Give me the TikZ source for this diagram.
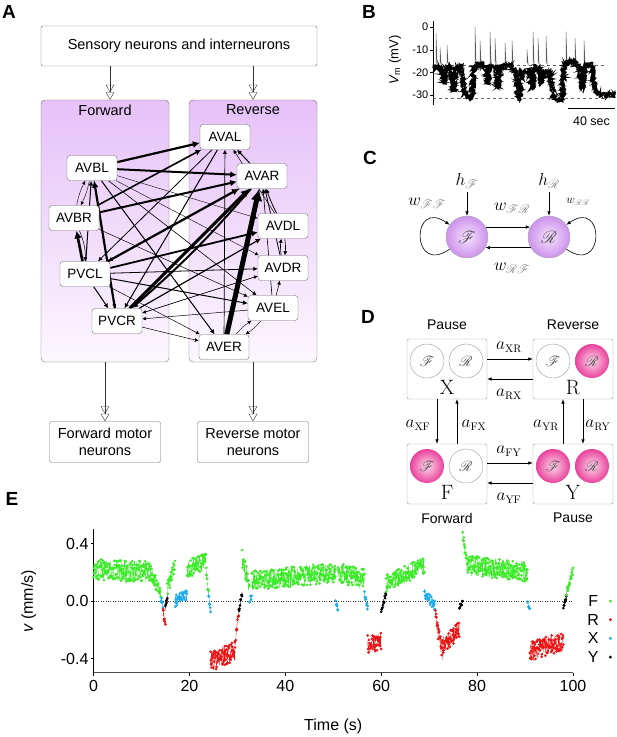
\documentclass[tikz,border=0pt]{standalone}
\usepackage[no-math]{fontspec}
\setmainfont{Liberation Sans}
\usepackage{mathrsfs}
\usetikzlibrary{arrows.meta,decorations.pathmorphing}

\definecolor{grpTop}{RGB}{230,193,248}
\definecolor{grpBot}{RGB}{252,247,254}
\definecolor{ballIn}{RGB}{246,226,253}
\definecolor{ballOut}{RGB}{204,146,236}
\definecolor{pinkIn}{RGB}{253,216,235}
\definecolor{pinkOut}{RGB}{233,66,155}
\definecolor{stF}{RGB}{60,235,40}
\definecolor{stR}{RGB}{235,20,20}
\definecolor{stX}{RGB}{30,170,235}
\definecolor{stY}{RGB}{0,0,0}
\definecolor{edgeGray}{RGB}{110,110,110}

\pgfdeclarelayer{back}
\pgfdeclarelayer{wires}
\pgfsetlayers{back,wires,main}

\tikzset{
  neuron/.style={draw=edgeGray, fill=white, rounded corners=3pt, minimum width=50pt,
    minimum height=25pt, inner sep=1pt, font=\fontsize{13.5}{15}\selectfont},
  group/.style={draw=edgeGray, rounded corners=4pt, top color=grpTop, bottom color=grpBot,
    minimum width=128pt, minimum height=262pt},
  plainbox/.style={draw=edgeGray, fill=white, rounded corners=2pt, align=center,
    font=\fontsize{14.5}{17}\selectfont},
  syn/.style={-{Latex[length=3pt 1.8, width=3pt 1.8]}},
  dtip/.style={draw=black!80, -{Triangle[open,length=7.5pt,width=8.5pt]Triangle[open,length=7.5pt,width=8.5pt]}},
  panel/.style={font=\fontsize{19}{20}\selectfont\bfseries},
  arr/.style={line width=0.6pt, -{Latex[length=4.5pt,width=3.5pt]}},
  cball/.style={circle, draw=gray!70, minimum size=42pt, inner sep=0pt, inner color=ballIn,
    outer color=ballOut, text=black!70, font=\fontsize{17}{17}\selectfont},
  statebox/.style={draw=gray!80, fill=white, rounded corners=2pt, minimum width=80pt, minimum height=60pt},
  offunit/.style={circle, draw=gray!80, fill=white, minimum size=34pt, inner sep=0pt,
    text=black!70, font=\fontsize{14}{14}\selectfont},
  onunit/.style={circle, minimum size=34pt, inner sep=0pt, inner color=pinkIn, outer color=pinkOut,
    text=black!70, font=\fontsize{14}{14}\selectfont},
  rate/.style={font=\fontsize{16}{16}\selectfont},
}

\begin{document}
\begin{tikzpicture}[x=1pt, y=-1pt]
  \useasboundingbox (0,0) rectangle (617,737);
  \pgfmathsetseed{17}

  % Panel letters
  \node[panel] (labA) at (9,12) {A};
  \node[panel] (labB) at (369,12) {B};
  \node[panel] (labC) at (370,158) {C};
  \node[panel] (labD) at (368,317) {D};
  \node[panel] (labE) at (12,499) {E};

  %%% A: network
  \node[plainbox, minimum width=276pt, minimum height=40pt] (sens) at (179,46) {Sensory neurons and interneurons};
  \begin{pgfonlayer}{back}
    \node[group] (fwd) at (105,231) {};
    \node[group] (rev) at (253,231) {};
  \end{pgfonlayer}
  \node[font=\fontsize{14.5}{16}\selectfont] (fwdT) at (105,110) {Forward};
  \node[font=\fontsize{14.5}{16}\selectfont] (revT) at (253,110) {Reverse};
  \draw[dtip] (sens.south -| 110,0) -- (fwd.north -| 110,0);
  \draw[dtip] (sens.south -| rev.north) -- (rev.north);

  % Neurons
  \node[neuron] (AVAL) at (225,137) {AVAL};
  \node[neuron] (AVBL) at (92,168) {AVBL};
  \node[neuron] (AVAR) at (262,176) {AVAR};
  \node[neuron] (AVBR) at (74,218) {AVBR};
  \node[neuron] (AVDL) at (283,226) {AVDL};
  \node[neuron] (PVCL) at (85,274) {PVCL};
  \node[neuron] (AVDR) at (283,268) {AVDR};
  \node[neuron] (AVEL) at (273,308) {AVEL};
  \node[neuron] (PVCR) at (117,321) {PVCR};
  \node[neuron] (AVER) at (224,347) {AVER};

  % Synapses (source/target/width/bend)
  \begin{pgfonlayer}{wires}
  \foreach \src/\dst/\w/\bd in {
      AVBL/AVAL/2.2/0, AVBL/AVAR/2.0/0, AVBR/AVAL/1.6/0, AVBR/AVAR/2.0/0,
      PVCL/AVAR/2.2/0, PVCL/AVDL/1.8/0, PVCL/AVDR/0.8/0, PVCL/AVEL/1.0/0,
      PVCL/AVER/0.5/0, PVCR/AVAR/3.0/0, PVCR/AVDL/1.2/0, PVCR/AVER/0.5/0,
      PVCR/AVDR/0.4/0, AVAR/PVCR/2.0/4, AVAL/PVCR/1.0/0, AVAL/PVCL/0.8/0,
      AVAR/PVCL/1.0/0, AVER/AVAR/5.0/0, AVER/AVAL/0.7/0, AVBL/AVER/1.0/0,
      AVBL/AVEL/0.6/0, AVBL/AVDL/0.4/0, AVBL/AVDR/0.4/0, AVBL/PVCR/0.6/0,
      PVCR/AVBL/2.2/0, PVCL/AVBL/1.0/0, AVBR/AVBL/0.4/8, AVBL/AVBR/0.4/8,
      PVCL/AVBR/2.6/0, AVBR/PVCL/0.5/12, AVEL/PVCR/0.5/0, AVDR/PVCR/0.4/0,
      AVDL/AVAR/0.8/4, AVDR/AVAR/0.8/0, AVEL/AVAR/0.6/0, AVAR/AVAL/1.0/0,
      AVDL/AVAL/0.5/0, AVDR/AVDL/0.6/8, AVDL/AVDR/0.6/8, AVEL/AVDR/0.5/0,
      AVEL/AVER/0.4/8, AVER/AVEL/0.4/8, AVBR/AVEL/0.5/0, PVCL/PVCR/1.0/0}
    \draw[syn, line width=\w pt] (\src) to[bend left=\bd] (\dst);
  \end{pgfonlayer}

  % Motor neurons
  \node[plainbox, minimum width=111pt, minimum height=41pt] (fmot) at (105,442) {Forward motor\\neurons};
  \node[plainbox, minimum width=111pt, minimum height=41pt] (rmot) at (253,442) {Reverse motor\\neurons};
  \draw[dtip] (fwd.south) -- (fmot.north);
  \draw[dtip] (rev.south) -- (rmot.north);

  %%% B: membrane potential
  \begin{scope}[shift={(0,27)}, y=2.27pt, font=\fontsize{11}{12}\selectfont]
    % Axis
    \draw (433,2.5) -- (433,-34.5);
    \foreach \v in {0,-10,-20,-30}
      \draw (433,\v) -- (430,\v) node[left, inner sep=1.5pt] {\v};
    \node[rotate=90, font=\fontsize{13}{14}\selectfont] (vlab) at (395,-14.5) {{\itshape V}\textsubscript{m} (mV)};
    % Levels
    \draw[dashed, gray!80!black] (433,-17) -- (607,-17);
    \draw[dashed, gray!80!black] (433,-31.5) -- (607,-31.5);
    % Spikes
    \foreach \sx/\sv in {436/-3, 440/-9, 447/-8, 475/0, 480/-6, 490/-2, 495/-5, 505/-7,
        512/-6, 527/-10, 533/-2, 538/-5, 546/-4, 566/-2, 575/-5, 584/-6}
      \draw[gray!70!black, line width=0.5pt] (\sx,-16) -- (\sx,\sv) -- (\sx+1.2,-17);
    % Trace
    \foreach \amp in {3.2pt, 2.4pt}
    \draw[black, line width=1.2pt, decorate, decoration={random steps, segment length=0.6pt, amplitude=\amp}]
      plot coordinates {(433,-18) (438,-17) (442,-19) (444,-25) (446,-18) (450,-17) (452,-22)
        (453.5,-28) (455,-19) (460,-17) (462,-22) (465,-30) (470,-32) (472,-30) (474,-18)
        (480,-16) (486,-18) (487.5,-25) (489,-18) (496,-17) (498,-27) (500,-18) (510,-17)
        (516,-20) (519,-32) (522,-20) (530,-19) (532,-27) (534,-18) (539,-18) (541,-25)
        (543,-20) (550,-20) (553,-30) (556,-32) (562,-32) (564,-16) (572,-15) (580,-18)
        (582,-27) (585,-17) (592,-17) (595,-28) (600,-30) (615,-30)};
    % Scale bar
    \draw[line width=1pt] (568,-36) -- (615,-36);
    \node[font=\fontsize{12.5}{13}\selectfont] (bar) at (591.5,-41.5) {40 sec};
  \end{scope}

  %%% C: two-unit model
  \node[cball] (Fc) at (467,237) {$\mathscr{F}$};
  \node[cball] (Rc) at (549,237) {$\mathscr{R}$};
  \node[font=\fontsize{18}{18}\selectfont] (hF) at (467,181) {$h_{\textcolor{gray}{\mathscr{F}}}$};
  \node[font=\fontsize{18}{18}\selectfont] (hR) at (549,181) {$h_{\textcolor{gray}{\mathscr{R}}}$};
  \draw[arr] (hF) -- (Fc);
  \draw[arr] (hR) -- (Rc);
  \draw[arr] (Fc.28) -- (Rc.152);
  \draw[arr] (Rc.210) -- (Fc.-30);
  \draw[arr] (Fc.215) to[out=215, in=145, looseness=5] (Fc.145);
  \draw[arr] (Rc.-35) to[out=-35, in=35, looseness=5] (Rc.35);
  \node[font=\fontsize{18}{18}\selectfont] (wFF) at (427,203) {$w_{\textcolor{gray}{\mathscr{F}\mathscr{F}}}$};
  \node[font=\fontsize{18}{18}\selectfont] (wFR) at (512,208) {$w_{\textcolor{gray}{\mathscr{F}\mathscr{R}}}$};
  \node[font=\fontsize{18}{18}\selectfont] (wRF) at (512,268) {$w_{\textcolor{gray}{\mathscr{R}\mathscr{F}}}$};
  \node[font=\fontsize{12}{12}\selectfont] (wRR) at (578,202) {$w_{\textcolor{gray}{\mathscr{R}\mathscr{R}}}$};

  %%% D: four states
  \node[statebox] (Xb) at (447,369) {};
  \node[statebox] (Rb) at (573,369) {};
  \node[statebox] (Fb) at (447,474) {};
  \node[statebox] (Yb) at (573,474) {};
  \foreach \b/\l/\r/\txt in {Xb/offunit/offunit/X, Rb/offunit/onunit/R, Fb/onunit/offunit/F, Yb/onunit/onunit/Y} {
    \node[\l] (\b-f) at ([xshift=-20pt, yshift=8pt]\b.center) {$\mathscr{F}$};
    \node[\r] (\b-r) at ([xshift=19pt, yshift=8pt]\b.center) {$\mathscr{R}$};
    \node[font=\fontsize{20}{20}\selectfont] (\b-t) at ([yshift=-18pt]\b.center) {$\mathrm{\txt}$};
  }
  \node[font=\fontsize{14}{15}\selectfont] (tX) at (447,325) {Pause};
  \node[font=\fontsize{14}{15}\selectfont] (tR) at (573,325) {Reverse};
  \node[font=\fontsize{14}{15}\selectfont] (tF) at (447,518) {Forward};
  \node[font=\fontsize{14}{15}\selectfont] (tY) at (573,518) {Pause};
  \draw[arr] ([yshift=10pt]Xb.east) -- ([yshift=10pt]Rb.west);
  \draw[arr] ([yshift=-10pt]Rb.west) -- ([yshift=-10pt]Xb.east);
  \draw[arr] ([yshift=11pt]Fb.east) -- ([yshift=11pt]Yb.west);
  \draw[arr] ([yshift=-9pt]Yb.west) -- ([yshift=-9pt]Fb.east);
  \draw[arr] ([xshift=-10pt]Xb.south) -- ([xshift=-10pt]Fb.north);
  \draw[arr] ([xshift=10pt]Fb.north) -- ([xshift=10pt]Xb.south);
  \draw[arr] ([xshift=-10pt]Yb.north) -- ([xshift=-10pt]Rb.south);
  \draw[arr] ([xshift=10pt]Rb.south) -- ([xshift=10pt]Yb.north);
  \node[rate] (aXR) at (509,347) {$a_{\mathrm{XR}}$};
  \node[rate] (aRX) at (509,394) {$a_{\mathrm{RX}}$};
  \node[rate] (aXF) at (418,425) {$a_{\mathrm{XF}}$};
  \node[rate] (aFX) at (474,425) {$a_{\mathrm{FX}}$};
  \node[rate] (aYR) at (546,425) {$a_{\mathrm{YR}}$};
  \node[rate] (aRY) at (598,425) {$a_{\mathrm{RY}}$};
  \node[rate] (aFY) at (509,451) {$a_{\mathrm{FY}}$};
  \node[rate] (aYF) at (509,498) {$a_{\mathrm{YF}}$};

  %%% E: velocity trace
  \begin{scope}[shift={(93.5,601)}, x=4.795pt, y=143.75pt, every node/.style={font=\fontsize{16}{18}\selectfont}]
    % Axes
    \draw[line width=0.7pt] (0,-0.5) -- (0,0.5);
    \draw[line width=1pt, black!70] (0,-0.5) -- (100,-0.5);
    \foreach \t in {0,20,...,100}
      \draw (\t,-0.5) -- ++(0,-0.025) node[below, inner sep=4pt] {\t};
    \foreach \v/\lab in {0.4/0.4, 0/0.0, -0.4/-0.4}
      \draw (0,\v) -- ++(-0.6,0) node[left, inner sep=2pt] {\lab};
    \draw[dotted, black!80] (0,0) -- (100,0);
    \node (tlab) at (50,-0.87) {Time (s)};
    \node[rotate=90] (ylab) at (-13.5,0) {{\itshape v} (mm/s)};
    % States (colour/start/end/from/to/noise/samples)
    \foreach \c/\ta/\tb/\va/\vb/\nz/\n in {
        stF/0/12/0.22/0.2/0.075/150, stF/12/14/0.2/0.05/0.05/25, stX/14/14.5/0.02/-0.05/0.03/6,
        stR/14.5/15/-0.08/-0.17/0.03/7, stY/15/15.4/-0.05/0.03/0.02/6, stF/15.4/17/0.1/0.25/0.06/20,
        stX/17/19.5/0.0/0.05/0.04/28, stF/19.5/23.5/0.22/0.28/0.06/50, stF/23.5/24/0.2/0.05/0.03/6,
        stX/24/24.4/0.05/-0.08/0.02/6, stR/24.4/29.5/-0.42/-0.35/0.07/70, stR/29.5/30.3/-0.3/-0.08/0.03/10,
        stY/30.3/31/-0.07/0.05/0.02/9, stF/31/32.5/0.3/0.1/0.06/18, stX/32.5/33/0.0/0.03/0.02/5,
        stF/33/50.5/0.14/0.2/0.07/220, stX/50.5/51/0.0/-0.06/0.02/6, stF/51/56.5/0.2/0.15/0.07/70,
        stX/56.5/57.2/0.05/-0.05/0.02/9, stR/57.2/60/-0.3/-0.28/0.06/36, stY/60/61/-0.06/0.05/0.02/12,
        stF/61/69/0.12/0.25/0.06/100, stX/69/71.3/0.06/-0.04/0.035/30, stR/71.3/73/-0.12/-0.38/0.06/22,
        stR/73/76.3/-0.3/-0.2/0.06/42, stY/76.3/77/-0.05/0.0/0.02/8, stF/77/78/0.45/0.25/0.05/13,
        stF/78/90.5/0.25/0.2/0.07/160, stX/90.5/91/0.0/-0.05/0.02/6, stR/91/98/-0.35/-0.28/0.07/90,
        stY/98/98.6/-0.05/0.03/0.02/8, stF/98.6/100/0.05/0.22/0.03/18}
      \draw[\c, line width=0.35pt] plot[domain=\ta:\tb, samples=\n, mark=*, mark size=1.15pt]
        (\x, {(\va)+((\vb)-(\va))*(\x-(\ta))/((\tb)-(\ta))+(\nz)*rand});
    % Legend
    \foreach \c/\s/\yy in {stF/F/0, stR/R/-0.13, stX/X/-0.26, stY/Y/-0.39} {
      \node (leg\s) at (104.2,\yy) {\s};
      \fill[\c] (107.8,\yy) circle (1.6pt);
    }
  \end{scope}
\end{tikzpicture}
\end{document}
